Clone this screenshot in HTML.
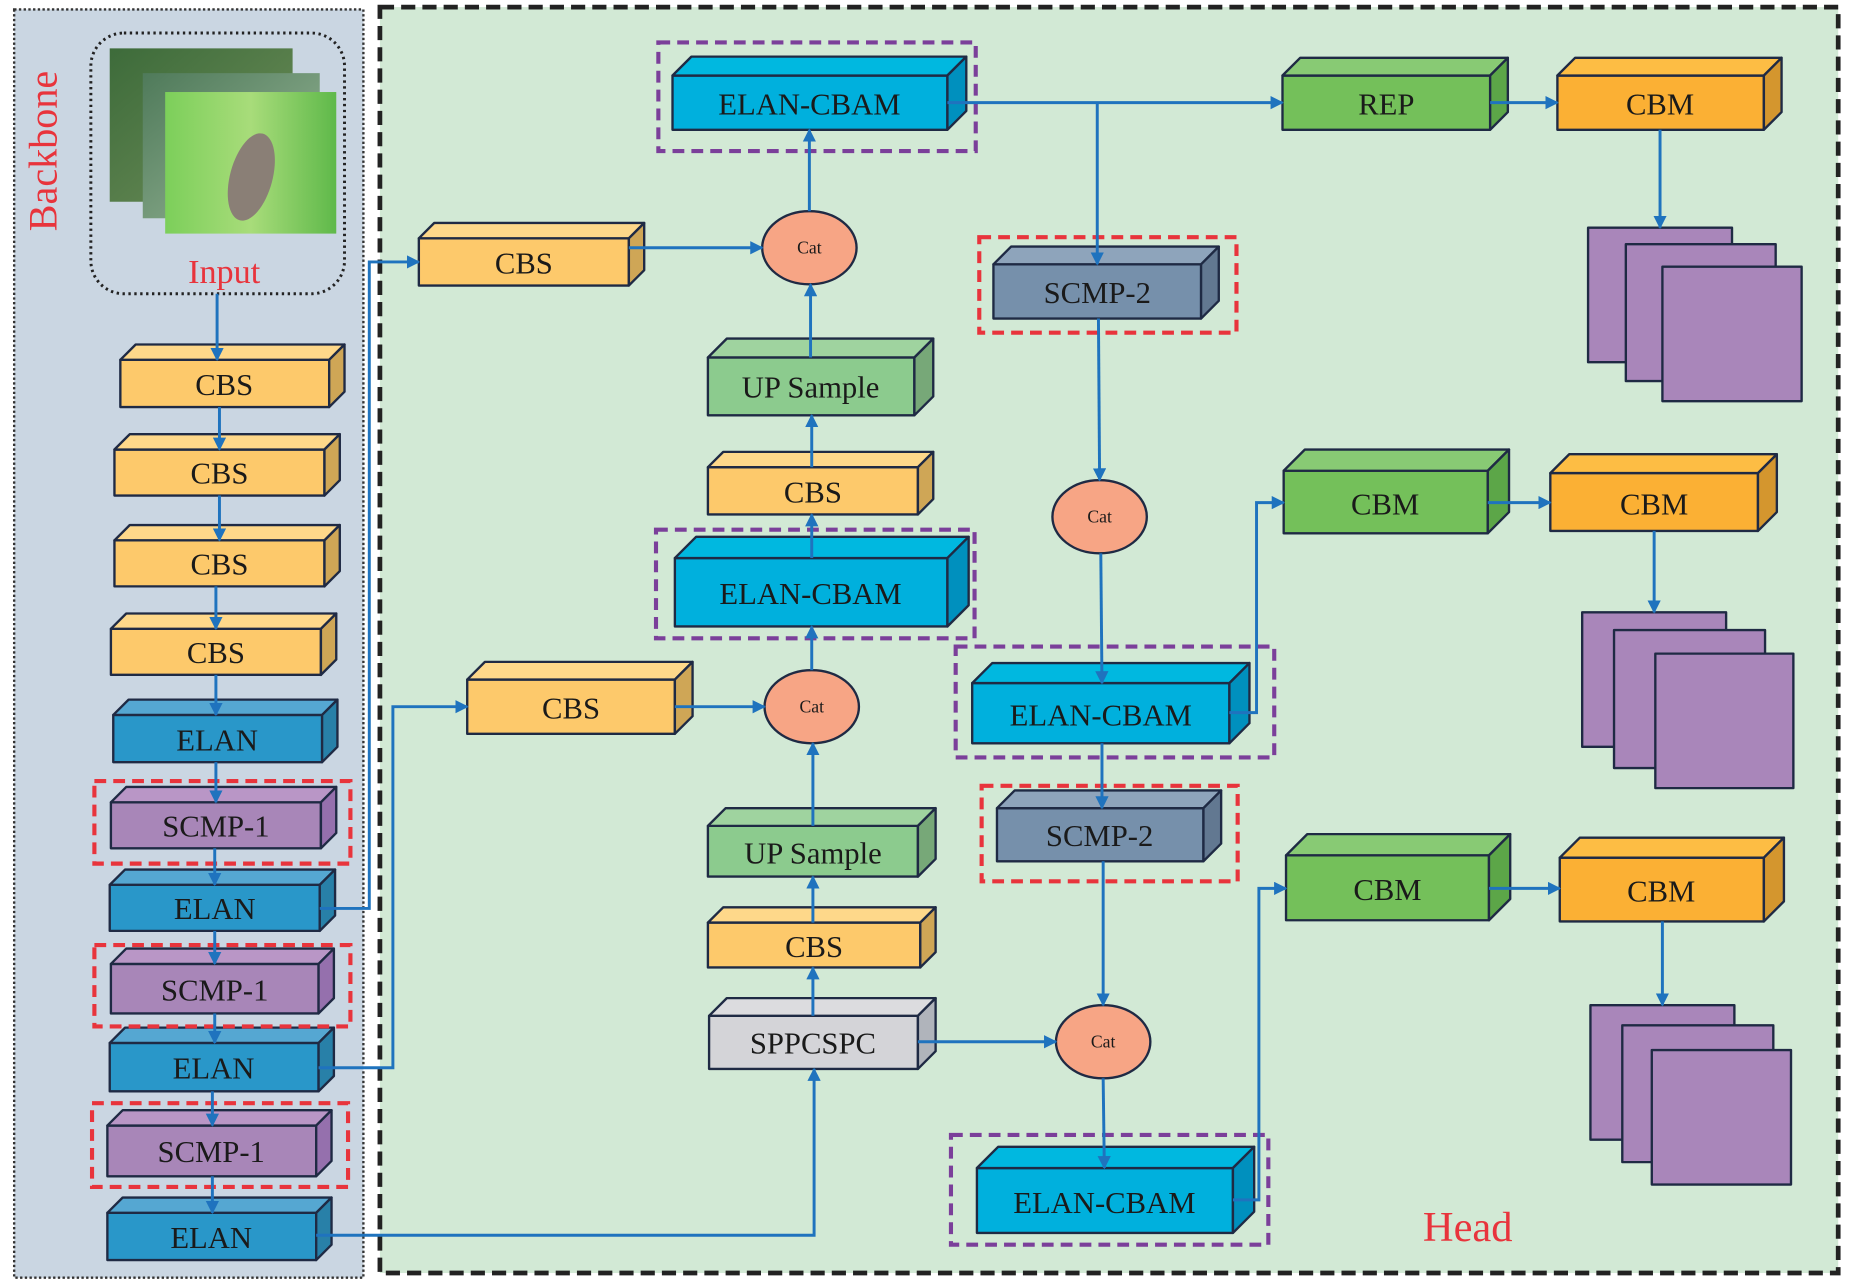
<!DOCTYPE html>
<html><head><meta charset="utf-8"><style>html,body{margin:0;padding:0;background:#fff}svg{display:block}</style></head>
<body>
<svg width="1850" height="1286" viewBox="0 0 1568 1090" preserveAspectRatio="none" xmlns="http://www.w3.org/2000/svg" font-family="'Liberation Serif',serif">
<defs>
<marker id="a" viewBox="0 0 10 10" refX="9" refY="5" markerWidth="4.5" markerHeight="4.5" orient="auto"><path d="M0,0L10,5L0,10z" fill="#1f73be"/></marker>
<linearGradient id="p1" x1="0" y1="0" x2="1" y2="1"><stop offset="0" stop-color="#3d6b3a"/><stop offset="1" stop-color="#6f8f5a"/></linearGradient>
<linearGradient id="p2" x1="0" y1="0" x2="1" y2="1"><stop offset="0" stop-color="#4f7a5a"/><stop offset="1" stop-color="#9bb99a"/></linearGradient>
<linearGradient id="p3" x1="0" y1="0" x2="1" y2="0"><stop offset="0" stop-color="#7ccf5a"/><stop offset="0.5" stop-color="#a8dc7a"/><stop offset="1" stop-color="#5fb94a"/></linearGradient>
</defs>
<rect width="1568" height="1090" fill="#fff"/>
<rect x="12" y="8" width="296" height="1075" fill="#cad6e2" stroke="#333" stroke-width="2" stroke-dasharray="2 2"/>
<rect x="322" y="6" width="1236" height="1073" fill="#d2e9d5" stroke="#222" stroke-width="4" stroke-dasharray="12 6"/>
<text transform="translate(48,128) rotate(-90)" text-anchor="middle" font-size="34" fill="#e8343c">Backbone</text>
<rect x="77" y="28" width="215" height="221" rx="28" fill="none" stroke="#222" stroke-width="2.5" stroke-dasharray="2 3"/>
<rect x="93" y="41" width="155" height="130" fill="url(#p1)"/>
<rect x="121" y="62" width="150" height="123" fill="url(#p2)"/>
<rect x="140" y="78" width="145" height="120" fill="url(#p3)"/>
<ellipse cx="213" cy="150" rx="18" ry="38" fill="#8a7f76" transform="rotate(15 213 150)"/>
<text x="190" y="240" text-anchor="middle" font-size="29" fill="#e8343c">Input</text>
<text x="1244" y="1052" text-anchor="middle" font-size="36" fill="#e8343c">Head</text>

<g stroke="#1f2a44" stroke-width="2" stroke-linejoin="round">
<g fill="#fdc96b"><rect x="102" y="305" width="177" height="40"/><polygon points="102,305 115,292 292,292 279,305" fill="#fed88a"/><polygon points="279,305 292,292 292,332 279,345" fill="#cfa656"/></g>
<g fill="#fdc96b"><rect x="97" y="381" width="178" height="39"/><polygon points="97,381 110,368 288,368 275,381" fill="#fed88a"/><polygon points="275,381 288,368 288,407 275,420" fill="#cfa656"/></g>
<g fill="#fdc96b"><rect x="97" y="458" width="178" height="39"/><polygon points="97,458 110,445 288,445 275,458" fill="#fed88a"/><polygon points="275,458 288,445 288,484 275,497" fill="#cfa656"/></g>
<g fill="#fdc96b"><rect x="94" y="533" width="178" height="39"/><polygon points="94,533 107,520 285,520 272,533" fill="#fed88a"/><polygon points="272,533 285,520 285,559 272,572" fill="#cfa656"/></g>
<g fill="#2997c9"><rect x="96" y="606" width="177" height="40"/><polygon points="96,606 109,593 286,593 273,606" fill="#55a7d2"/><polygon points="273,606 286,593 286,633 273,646" fill="#2880a8"/></g>
<g fill="#a886b8"><rect x="94" y="680" width="178" height="39"/><polygon points="94,680 107,667 285,667 272,680" fill="#b996c6"/><polygon points="272,680 285,667 285,706 272,719" fill="#9570ad"/></g>
<g fill="#2997c9"><rect x="93" y="750" width="178" height="39"/><polygon points="93,750 106,737 284,737 271,750" fill="#55a7d2"/><polygon points="271,750 284,737 284,776 271,789" fill="#2880a8"/></g>
<g fill="#a886b8"><rect x="94" y="817" width="176" height="42"/><polygon points="94,817 107,804 283,804 270,817" fill="#b996c6"/><polygon points="270,817 283,804 283,846 270,859" fill="#9570ad"/></g>
<g fill="#2997c9"><rect x="93" y="884" width="177" height="41"/><polygon points="93,884 106,871 283,871 270,884" fill="#55a7d2"/><polygon points="270,884 283,871 283,912 270,925" fill="#2880a8"/></g>
<g fill="#a886b8"><rect x="91" y="954" width="177" height="43"/><polygon points="91,954 104,941 281,941 268,954" fill="#b996c6"/><polygon points="268,954 281,941 281,984 268,997" fill="#9570ad"/></g>
<g fill="#2997c9"><rect x="91" y="1028" width="177" height="40"/><polygon points="91,1028 104,1015 281,1015 268,1028" fill="#55a7d2"/><polygon points="268,1028 281,1015 281,1055 268,1068" fill="#2880a8"/></g>
<g fill="#fdc96b"><rect x="355" y="202" width="178" height="40"/><polygon points="355,202 368,189 546,189 533,202" fill="#fed88a"/><polygon points="533,202 546,189 546,229 533,242" fill="#cfa656"/></g>
<g fill="#00b0dd"><rect x="570" y="64" width="233" height="46"/><polygon points="570,64 586,48 819,48 803,64" fill="#00b8e0"/><polygon points="803,64 819,48 819,94 803,110" fill="#0090be"/></g>
<g fill="#8ccb8e"><rect x="600" y="303" width="175" height="49"/><polygon points="600,303 616,287 791,287 775,303" fill="#9fd39f"/><polygon points="775,303 791,287 791,336 775,352" fill="#77a878"/></g>
<g fill="#fdc96b"><rect x="600" y="396" width="178" height="40"/><polygon points="600,396 613,383 791,383 778,396" fill="#fed88a"/><polygon points="778,396 791,383 791,423 778,436" fill="#cfa656"/></g>
<g fill="#00b0dd"><rect x="572" y="473" width="231" height="58"/><polygon points="572,473 590,455 821,455 803,473" fill="#00b8e0"/><polygon points="803,473 821,455 821,513 803,531" fill="#0090be"/></g>
<g fill="#fdc96b"><rect x="396" y="576" width="176" height="46"/><polygon points="396,576 411,561 587,561 572,576" fill="#fed88a"/><polygon points="572,576 587,561 587,607 572,622" fill="#cfa656"/></g>
<g fill="#8ccb8e"><rect x="600" y="700" width="178" height="43"/><polygon points="600,700 615,685 793,685 778,700" fill="#9fd39f"/><polygon points="778,700 793,685 793,728 778,743" fill="#77a878"/></g>
<g fill="#fdc96b"><rect x="600" y="782" width="180" height="38"/><polygon points="600,782 613,769 793,769 780,782" fill="#fed88a"/><polygon points="780,782 793,769 793,807 780,820" fill="#cfa656"/></g>
<g fill="#d4d4d8"><rect x="601" y="861" width="177" height="45"/><polygon points="601,861 616,846 793,846 778,861" fill="#dcdcdf"/><polygon points="778,861 793,846 793,891 778,906" fill="#b0b4bb"/></g>
<g fill="#74c05a"><rect x="1087" y="64" width="176" height="46"/><polygon points="1087,64 1102,49 1278,49 1263,64" fill="#88ca74"/><polygon points="1263,64 1278,49 1278,95 1263,110" fill="#5ca648"/></g>
<g fill="#fbb034"><rect x="1320" y="64" width="175" height="46"/><polygon points="1320,64 1335,49 1510,49 1495,64" fill="#fdbd44"/><polygon points="1495,64 1510,49 1510,95 1495,110" fill="#d4962e"/></g>
<g fill="#7690ab"><rect x="842" y="224" width="176" height="46"/><polygon points="842,224 857,209 1033,209 1018,224" fill="#8ea4bb"/><polygon points="1018,224 1033,209 1033,255 1018,270" fill="#627891"/></g>
<g fill="#74c05a"><rect x="1088" y="399" width="173" height="53"/><polygon points="1088,399 1106,381 1279,381 1261,399" fill="#88ca74"/><polygon points="1261,399 1279,381 1279,434 1261,452" fill="#5ca648"/></g>
<g fill="#fbb034"><rect x="1314" y="401" width="176" height="49"/><polygon points="1314,401 1330,385 1506,385 1490,401" fill="#fdbd44"/><polygon points="1490,401 1506,385 1506,434 1490,450" fill="#d4962e"/></g>
<g fill="#00b0dd"><rect x="824" y="579" width="218" height="51"/><polygon points="824,579 841,562 1059,562 1042,579" fill="#00b8e0"/><polygon points="1042,579 1059,562 1059,613 1042,630" fill="#0090be"/></g>
<g fill="#7690ab"><rect x="845" y="685" width="175" height="45"/><polygon points="845,685 860,670 1035,670 1020,685" fill="#8ea4bb"/><polygon points="1020,685 1035,670 1035,715 1020,730" fill="#627891"/></g>
<g fill="#74c05a"><rect x="1090" y="725" width="172" height="55"/><polygon points="1090,725 1108,707 1280,707 1262,725" fill="#88ca74"/><polygon points="1262,725 1280,707 1280,762 1262,780" fill="#5ca648"/></g>
<g fill="#fbb034"><rect x="1322" y="727" width="173" height="54"/><polygon points="1322,727 1339,710 1512,710 1495,727" fill="#fdbd44"/><polygon points="1495,727 1512,710 1512,764 1495,781" fill="#d4962e"/></g>
<g fill="#00b0dd"><rect x="828" y="990" width="217" height="55"/><polygon points="828,990 846,972 1063,972 1045,990" fill="#00b8e0"/><polygon points="1045,990 1063,972 1063,1027 1045,1045" fill="#0090be"/></g>
<g fill="#a986ba">
<rect x="1346" y="193" width="122" height="114"/><rect x="1378" y="207" width="127" height="116"/><rect x="1409" y="226" width="118" height="114"/>
<rect x="1341" y="519" width="122" height="114"/><rect x="1368" y="534" width="128" height="117"/><rect x="1403" y="554" width="117" height="114"/>
<rect x="1348" y="852" width="122" height="114"/><rect x="1375" y="869" width="128" height="116"/><rect x="1400" y="890" width="118" height="114"/>
</g>
<g fill="#f7a585">
<ellipse cx="686" cy="210" rx="40" ry="31"/><ellipse cx="688" cy="599" rx="40" ry="31"/><ellipse cx="932" cy="438" rx="40" ry="31"/><ellipse cx="935" cy="883" rx="40" ry="31"/>
</g>
</g>

<g fill="none" stroke-width="3.5" stroke-dasharray="10 6">
<g stroke="#e8343c">
<rect x="80" y="662" width="217" height="70"/><rect x="80" y="801" width="217" height="69"/><rect x="78" y="935" width="217" height="71"/>
<rect x="830" y="201" width="218" height="81"/><rect x="832" y="666" width="217" height="81"/>
</g>
<g stroke="#7b3f9a">
<rect x="558" y="36" width="269" height="92"/><rect x="556" y="449" width="270" height="92"/><rect x="810" y="548" width="270" height="94"/><rect x="806" y="962" width="269" height="93"/>
</g>
</g>

<g fill="none" stroke="#1f73be" stroke-width="2.5" marker-end="url(#a)">
<path d="M184,249V305"/><path d="M186,345V381"/><path d="M186,420V458"/><path d="M183,497V533"/><path d="M183,572V606"/>
<path d="M183,646V680"/><path d="M182,719V750"/><path d="M182,789V817"/><path d="M182,859V884"/><path d="M180,925V954"/><path d="M180,997V1028"/>
<path d="M271,770H313V222H355"/><path d="M270,905H333V599H396"/><path d="M268,1047H690V906"/>
<path d="M533,210H646"/><path d="M686,179V110"/><path d="M687,303V241"/><path d="M688,396V352"/><path d="M688,473V436"/><path d="M688,568V531"/>
<path d="M689,700V630"/><path d="M689,782V743"/><path d="M689,861V820"/>
<path d="M572,599H648"/>
<path d="M803,87H1087"/><path d="M930,87V224"/><path d="M1263,87H1320"/><path d="M1407,110V193"/>
<path d="M931,270L932,407"/><path d="M933,469L934,579"/><path d="M934,630V685"/><path d="M935,730V852"/><path d="M778,883H895"/><path d="M935,914L936,990"/>
<path d="M1042,604H1065V426H1088"/><path d="M1261,426H1314"/><path d="M1402,450V519"/>
<path d="M1045,1017H1067V753H1090"/><path d="M1262,753H1322"/><path d="M1409,781V852"/>
</g>

<g font-size="26" fill="#1a1a1a" text-anchor="middle">
<text x="190" y="335">CBS</text><text x="186" y="410">CBS</text><text x="186" y="487">CBS</text><text x="183" y="562">CBS</text>
<text x="184" y="636">ELAN</text><text x="183" y="709">SCMP-1</text><text x="182" y="779">ELAN</text><text x="182" y="848">SCMP-1</text>
<text x="181" y="914">ELAN</text><text x="179" y="985">SCMP-1</text><text x="179" y="1058">ELAN</text>
<text x="444" y="232">CBS</text><text x="686" y="97">ELAN-CBAM</text><text x="687" y="337">UP Sample</text><text x="689" y="426">CBS</text>
<text x="687" y="512">ELAN-CBAM</text><text x="484" y="609">CBS</text><text x="689" y="732">UP Sample</text><text x="690" y="811">CBS</text>
<text x="689" y="893">SPPCSPC</text>
<text x="1175" y="97">REP</text><text x="1407" y="97">CBM</text><text x="930" y="257">SCMP-2</text>
<text x="1174" y="436">CBM</text><text x="1402" y="436">CBM</text><text x="933" y="615">ELAN-CBAM</text><text x="932" y="717">SCMP-2</text>
<text x="1176" y="763">CBM</text><text x="1408" y="764">CBM</text><text x="936" y="1028">ELAN-CBAM</text>
</g>
<g font-size="15" fill="#1a1a1a" text-anchor="middle">
<text x="686" y="215">Cat</text><text x="688" y="604">Cat</text><text x="932" y="443">Cat</text><text x="935" y="888">Cat</text>
</g>
</svg>
</body></html>
